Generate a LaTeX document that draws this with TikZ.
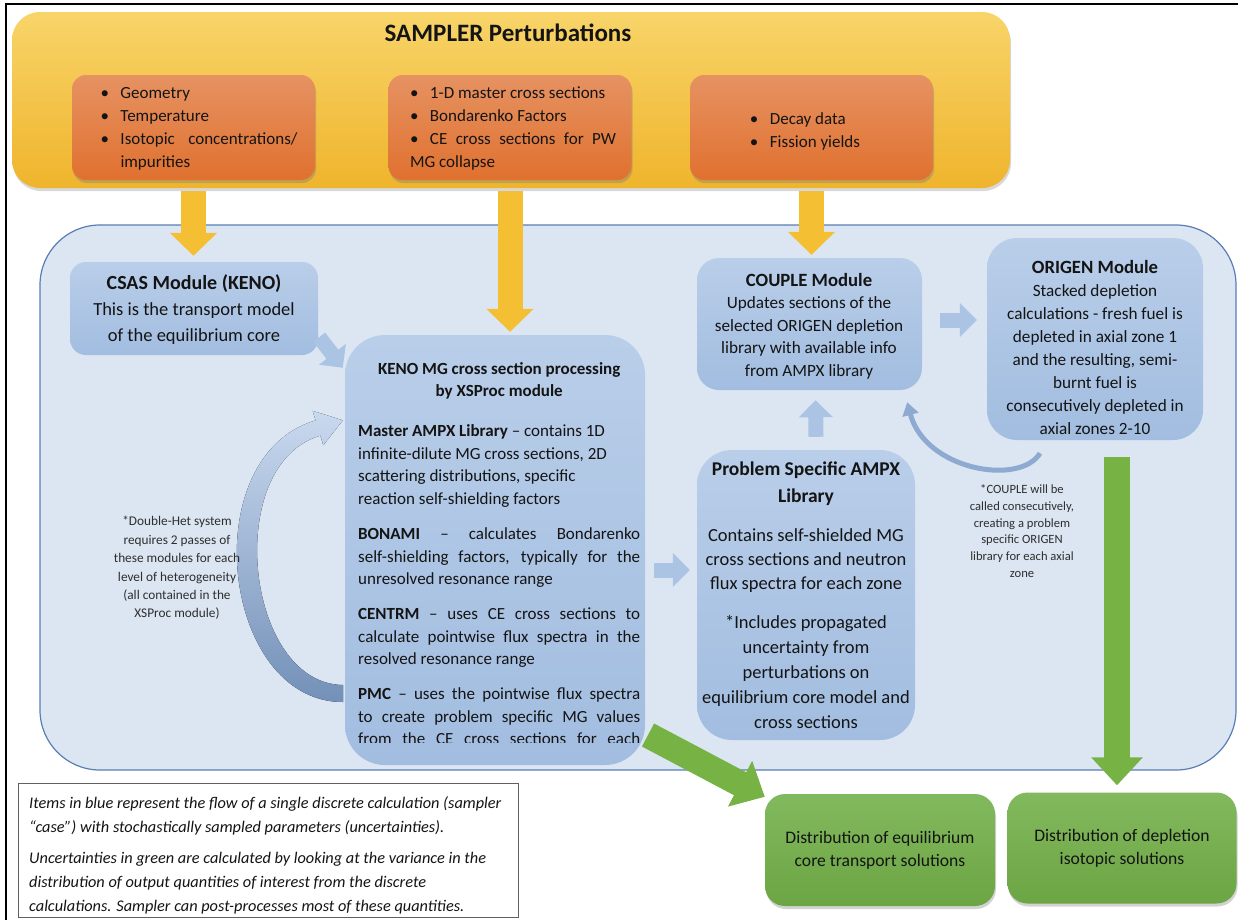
\documentclass[tikz,border=0pt]{standalone}
\usepackage{fontspec}
\setmainfont{Carlito}
\usetikzlibrary{arrows.meta,shadows,calc}
\definecolor{yelTop}{HTML}{F8D469}
\definecolor{yelBot}{HTML}{EFB42C}
\definecolor{orTop}{HTML}{E69262}
\definecolor{orBot}{HTML}{E0712F}
\definecolor{contFill}{HTML}{DCE6F2}
\definecolor{contLine}{HTML}{5A7EB4}
\definecolor{boxTop}{HTML}{B9CEE9}
\definecolor{boxBot}{HTML}{A2BDE0}
\definecolor{grTop}{HTML}{82B95E}
\definecolor{grBot}{HTML}{6CA543}
\definecolor{grArrow}{HTML}{77B244}
\definecolor{yArrow}{HTML}{F4BF33}
\definecolor{bArrow}{HTML}{ABC4E4}
\definecolor{thinArr}{HTML}{8FAAD0}
\definecolor{loopTop}{HTML}{C9D9EF}
\definecolor{loopBot}{HTML}{7390B8}
\definecolor{txt}{HTML}{141414}
\definecolor{note}{HTML}{2E2E2E}
\newcommand\bul{\makebox[24pt][l]{\hspace{4pt}\textbullet}}
\newlength\kw \setlength\kw{282pt}
\newcommand\jl[1]{\makebox[\kw][s]{#1}}
\begin{document}
\begin{tikzpicture}[x=1pt,y=-1pt,
  yelbox/.style={rounded corners=28pt, top color=yelTop, bottom color=yelBot, draw=none,
    drop shadow={shadow xshift=1pt,shadow yshift=-3pt,opacity=.3}, inner sep=0pt},
  orbox/.style={rounded corners=14pt, top color=orTop, bottom color=orBot, draw=none,
    drop shadow={shadow xshift=1pt,shadow yshift=-3pt,opacity=.4},
    minimum width=243pt, minimum height=105pt, inner sep=0pt},
  bbox/.style={rounded corners=#1, top color=boxTop, bottom color=boxBot, draw=none, inner sep=0pt},
  gbox/.style={rounded corners=20pt, top color=grTop, bottom color=grBot, draw=none,
    drop shadow={shadow xshift=1pt,shadow yshift=-3pt,opacity=.35}, inner sep=0pt},
  otext/.style={align=left, text=txt, font=\fontsize{17}{23}\selectfont, inner sep=0pt},
  ctext/.style={align=center, text=txt, inner sep=0pt},
  yarr/.style={draw=yArrow, line width=25pt, -{Triangle[width=46pt,length=23pt]}},
  barr/.style={draw=bArrow, line width=15pt, -{Triangle[width=33pt,length=17pt]}},
  garr/.style={draw=grArrow, line width=26pt, -{Triangle[width=50pt,length=28pt]}}
]
\useasboundingbox (0,0) rectangle (1238,919);
\fill[white] (0,0) rectangle (1238,919);
\draw[line width=2pt] (6,4) rectangle (1262,940);

% SAMPLER perturbations
\node[yelbox, minimum width=998pt, minimum height=176pt] (yel) at (511,100) {};
\node[ctext, font=\fontsize{25}{28}\selectfont\bfseries] (ttl) at (508,33) {SAMPLER Perturbations};
\node[orbox] (o1) at (193.5,127.5) {};
\node[orbox] (o2) at (510,127.5) {};
\node[orbox] (o3) at (811.5,127.5) {};
\node[otext] (o1t) at (197,129) {\bul Geometry\\ \bul Temperature\\ \bul\makebox[177pt][s]{Isotopic concentrations/}\\ \hspace*{24pt}impurities};
\node[otext] (o2t) at (511,128) {\bul 1-D master cross sections\\ \bul Bondarenko Factors\\ \bul\makebox[186pt][s]{CE cross sections for PW}\\ \hspace*{4pt}MG collapse};
\node[otext] (o3t) at (803,131) {\bul Decay data\\ \bul Fission yields};

% container
\node[fill=contFill, draw=contLine, line width=1.2pt, rounded corners=60pt,
  minimum width=1196pt, minimum height=545pt, inner sep=0pt] (cont) at (638,497.5) {};

\node[bbox=16pt, minimum width=248pt, minimum height=93pt] (csas) at (194,308.5) {};
\node[bbox=22pt, minimum width=225pt, minimum height=132pt] (couple) at (809.5,324) {};
\node[bbox=30pt, minimum width=216pt, minimum height=202pt] (origen) at (1095,339) {};
\node[bbox=35pt, minimum width=218pt, minimum height=290pt] (ps) at (806,595) {};

% yellow arrows
\draw[yarr] ([yshift=-3pt]yel.south -| o1) -- ([yshift=6pt]csas.north -| o1);

% loop arrow
\fill[top color=loopTop, bottom color=loopBot]
  (343,685) .. controls (245,684) and (222,464) .. (320.4,435.6) -- (323.3,445.2)
  -- (342.8,420.3) -- (312.7,410.8) -- (315.6,420.4)
  .. controls (194,456) and (221,702) .. (343,702) -- cycle;

% green arrows
\coordinate (gdA) at (648,735);
\node[gbox, minimum width=230pt, minimum height=112pt] (g1) at (880,850) {};
\node[gbox, minimum width=229pt, minimum height=111pt] (g2) at (1122,848) {};
\draw[garr] (gdA) -- ([shift={(0,3)}]g1.north west);
\draw[garr] ([shift={(22,17)}]origen.south) -- ([shift={(-5,-7)}]g2.north);

\node[bbox=40pt, minimum width=300pt, minimum height=430pt] (keno) at (495,550) {};

\draw[yarr] ([yshift=-3pt]yel.south -| o2) -- ([yshift=3pt]keno.north -| o2);
\draw[yarr] ([yshift=-3pt]yel.south -| o3) -- ([yshift=3pt]couple.north -| o3);

% blue block arrows
\draw[barr] ([shift={(1,-18)}]csas.south east) -- ([shift={(-2,33)}]keno.north west);
\draw[barr] ([shift={(9,20)}]keno.east) -- ([shift={(-7,-25)}]ps.west);
\draw[barr] ([shift={(10,-13)}]ps.north) -- ([shift={(6,10)}]couple.south);
\draw[barr] ([shift={(18,-4)}]couple.east) -- ([shift={(-10,-19)}]origen.west);

% thin curved arrow
\draw[draw=thinArr, line width=5pt, -{Triangle[width=16pt,length=13pt]}]
  ([shift={(-55,13)}]origen.south) .. controls +(-20,33) and +(18,68) .. ([shift={(-15,12)}]couple.south east);

% texts
\node[ctext, font=\fontsize{18.5}{26}\selectfont] (csast) at (194,310)
  {{\fontsize{20}{26}\selectfont\bfseries CSAS Module (KENO)}\\This is the transport model\\of the equilibrium core};

\begin{scope}
\clip (345,340) rectangle (645,742);
\node[otext, anchor=north west, font=\fontsize{17}{22.7}\selectfont] (kenot) at (358,362) {%
\makebox[\kw][c]{\textbf{KENO MG cross section processing}}\\
\makebox[\kw][c]{\textbf{by XSProc module}}\\[17pt]
\textbf{Master AMPX Library} – contains 1D\\
infinite-dilute MG cross sections, 2D\\
scattering distributions, specific\\
reaction self-shielding factors\\[12pt]
\jl{\textbf{BONAMI} – calculates Bondarenko}\\
\jl{self-shielding factors, typically for the}\\
unresolved resonance range\\[12pt]
\jl{\textbf{CENTRM} – uses CE cross sections to}\\
\jl{calculate pointwise flux spectra in the}\\
resolved resonance range\\[12pt]
\jl{\textbf{PMC} – uses the pointwise flux spectra}\\
\jl{to create problem specific MG values}\\
\jl{from the CE cross sections for each}};
\end{scope}

\node[ctext, font=\fontsize{17.2}{22.5}\selectfont] (couplet) at (809,326)
  {{\fontsize{18.7}{22.5}\selectfont\bfseries COUPLE Module}\\Updates sections of the\\selected ORIGEN depletion\\library with available info\\from AMPX library};
\node[ctext, font=\fontsize{17.2}{23}\selectfont] (origent) at (1095,347)
  {{\fontsize{18.7}{23}\selectfont\bfseries ORIGEN Module}\\Stacked depletion\\calculations - fresh fuel is\\depleted in axial zone 1\\and the resulting, semi-\\burnt fuel is\\consecutively depleted in\\axial zones 2-10};
\node[ctext, font=\fontsize{19.5}{27}\selectfont\bfseries] (pst1) at (806,484)
  {Problem Specific AMPX\\Library};
\node[ctext, font=\fontsize{18.5}{24}\selectfont] (pst2) at (806,561)
  {Contains self-shielded MG\\cross sections and neutron\\flux spectra for each zone};
\node[ctext, font=\fontsize{18.5}{25}\selectfont] (pst3) at (806,672)
  {*Includes propagated\\uncertainty from\\perturbations on\\equilibrium core model and\\cross sections};

\node[ctext, text=note, font=\fontsize{13.3}{18.4}\selectfont] (dh) at (177,568)
  {*Double-Het system\\requires 2 passes of\\these modules for each\\level of heterogeneity\\(all contained in the\\XSProc module)};
\node[ctext, text=note, font=\fontsize{12.6}{16.7}\selectfont] (cn) at (1022,531)
  {*COUPLE will be\\called consecutively,\\creating a problem\\specific ORIGEN\\library for each axial\\zone};

\node[ctext, font=\fontsize{17.6}{23}\selectfont] (g1t) at (g1) {Distribution of equilibrium\\core transport solutions};
\node[ctext, font=\fontsize{17.6}{23}\selectfont] (g2t) at (g2) {Distribution of depletion\\isotopic solutions};

% legend
\node[draw=gray!75!black, line width=0.9pt, fill=white, minimum width=500pt, minimum height=134pt, inner sep=0pt] (leg) at (268,850) {};
\node[otext, anchor=north west, font=\fontsize{16.3}{24}\selectfont\itshape] (legt) at (29,796)
  {Items in blue represent the flow of a single discrete calculation (sampler\\
  “case”) with stochastically sampled parameters (uncertainties).\\[7pt]
  Uncertainties in green are calculated by looking at the variance in the\\
  distribution of output quantities of interest from the discrete\\
  calculations. Sampler can post-processes most of these quantities.};
\end{tikzpicture}
\end{document}
